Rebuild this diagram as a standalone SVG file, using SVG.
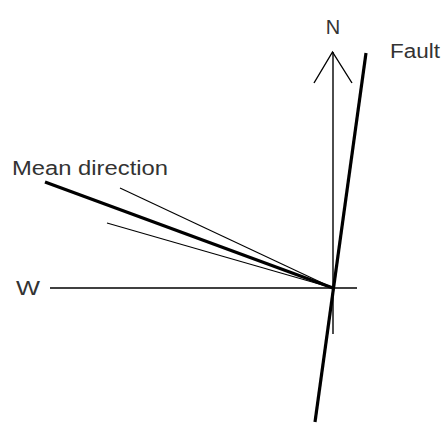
<svg xmlns="http://www.w3.org/2000/svg" width="445" height="424" viewBox="0 0 445 424">
<style>
.thin{stroke:#000;stroke-width:1.4;fill:none;stroke-linecap:butt}
.thick{stroke:#000;stroke-width:3.2;fill:none;stroke-linecap:butt}
.fine{stroke:#000;stroke-width:1.1;fill:none}
text{font-family:"Liberation Sans",Arial,sans-serif;font-size:20px;fill:#333}
</style>
<rect width="445" height="424" fill="#fff"/>
<g id="connectors">
<line class="thin" x1="50" y1="288" x2="357" y2="288"/>
<line class="thin" x1="333" y1="52" x2="333" y2="334"/>
<polyline class="thin" points="314,83 332.5,52 352,83"/>
<line class="thick" x1="366" y1="53" x2="315" y2="422"/>
<line class="thick" x1="45" y1="182" x2="333" y2="288"/>
<line class="fine" x1="120" y1="188" x2="333" y2="288"/>
<line class="fine" x1="107" y1="223" x2="333" y2="288"/>
</g>
<g id="label-N"><text x="333" y="34" text-anchor="middle">N</text></g>
<g id="label-Fault"><text x="390" y="58" textLength="50" lengthAdjust="spacingAndGlyphs">Fault</text></g>
<g id="label-Mean"><text x="12" y="175" textLength="156" lengthAdjust="spacingAndGlyphs">Mean direction</text></g>
<g id="label-W"><text x="16" y="295" textLength="24" lengthAdjust="spacingAndGlyphs">W</text></g>
</svg>
